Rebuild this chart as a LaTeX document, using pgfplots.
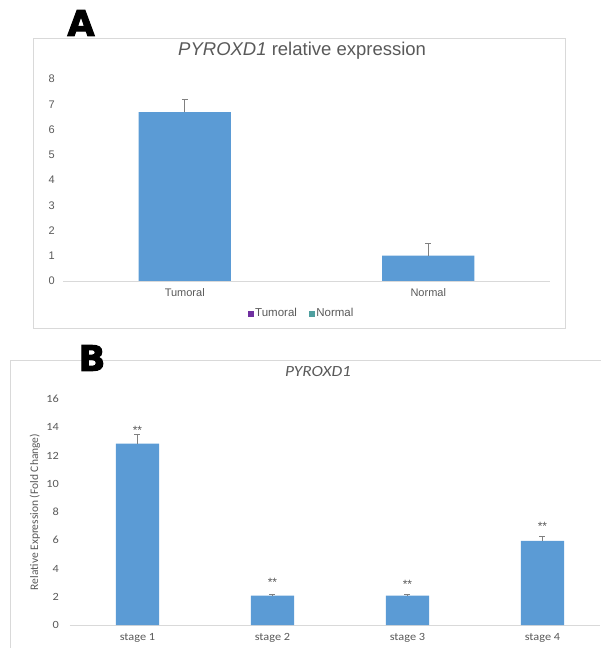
\documentclass[border=0pt]{standalone}
\usepackage{pgfplots}
\pgfplotsset{compat=1.18}
\usepackage{fontspec}
\setmainfont{Liberation Sans}
\newfontfamily\calfont[FakeStretch=1.12]{Carlito}
\newfontfamily\calfontplain{Carlito}
\newfontfamily\bigfont[FakeBold=3]{DejaVu Sans Bold}
\definecolor{barblue}{HTML}{5B9BD5}
\definecolor{txtgray}{HTML}{595959}
\definecolor{axgray}{HTML}{D9D9D9}
\definecolor{errgray}{HTML}{808080}
\definecolor{legpurple}{HTML}{7030A0}
\definecolor{legteal}{RGB}{80,160,160}
\begin{document}
\begin{tikzpicture}[x=1pt,y=1pt]
\useasboundingbox (0,0) rectangle (600,648);
% panel frames
\draw[axgray, line width=0.8pt] (33,610) rectangle (565,320);
\draw[axgray, line width=0.8pt] (10,-5) -- (10,288) -- (605,288);
% panel letters
\node[font=\bigfont\fontsize{35}{35}\selectfont, anchor=center] at (81,625) {A};
\node[font=\bigfont\fontsize{35}{35}\selectfont, anchor=center] at (92,290) {B};
% ---------- Panel A ----------
\begin{axis}[
  at={(63pt,367pt)}, anchor=south west,
  scale only axis, width=487pt, height=202pt,
  xmin=-0.5, xmax=1.5, ymin=0, ymax=8,
  axis y line*=left,
  y axis line style={draw=none},
  axis x line*=bottom,
  x axis line style={axgray, line width=0.8pt, -},
  ytick={0,1,...,8},
  xtick={0,1}, xticklabels={Tumoral,Normal},
  major tick length=0pt,
  ticklabel style={font=\fontsize{11}{13}\selectfont, text=txtgray},
  /pgf/number format/assume math mode=true,
  yticklabel style={anchor=east, inner sep=0pt, xshift=-8pt},
  xticklabel style={yshift=-4pt},
  title={\textit{PYROXD1} relative expression},
  title style={at={(axis description cs:0.491,1.109)}, anchor=center, font=\fontsize{18.5}{20}\selectfont, text=txtgray},
  legend style={at={(axis description cs:0.49,-0.16)}, anchor=center, draw=none, fill=none,
    font=\fontsize{11.5}{13}\selectfont, text=txtgray, legend columns=2,
    /tikz/every even column/.append style={column sep=10pt}},
  legend image code/.code={\fill[#1] (0pt,-2.5pt) rectangle (5pt,2.5pt);},
  legend cell align=left,
]
\addplot[forget plot, ybar, bar width=0.378, fill=barblue, draw=none, bar shift=0pt,
  error bars/.cd, y dir=plus, y explicit,
  error bar style={errgray, line width=0.8pt},
  error mark options={errgray, line width=0.8pt, mark size=3pt, rotate=90}]
  coordinates {(0,6.69) +- (0,0.51) (1,1.0) +- (0,0.48)};
\addlegendimage{legpurple}
\addlegendentry{Tumoral}
\addlegendimage{legteal}
\addlegendentry{Normal}
\end{axis}
% ---------- Panel B ----------
\begin{axis}[
  at={(70pt,23pt)}, anchor=south west,
  scale only axis, width=530pt, height=226pt,
  xmin=-0.5, xmax=3.426, ymin=0, ymax=16,
  clip=false,
  axis y line*=left,
  y axis line style={draw=none},
  axis x line*=bottom,
  x axis line style={axgray, line width=0.8pt, -},
  ytick={0,2,...,16},
  xtick={0,1,2,3}, xticklabels={stage 1,stage 2,stage 3,stage 4},
  major tick length=0pt,
  ticklabel style={font=\calfont\fontsize{11}{13}\selectfont, text=txtgray},
  /pgf/number format/assume math mode=true,
  yticklabel style={anchor=east, inner sep=0pt, xshift=-11pt},
  xticklabel style={yshift=-5pt},
  ylabel={Relative Expression (Fold Change)},
  ylabel style={font=\calfontplain\fontsize{11.5}{13}\selectfont, text=txtgray, at={(axis description cs:-0.066,0.5)}, anchor=center},
  title={\textit{PYROXD1}},
  title style={at={(axis description cs:0.468,1.093)}, anchor=center, font=\calfont\fontsize{15.5}{17}\selectfont, text=txtgray},
]
\addplot[ybar, bar width=0.32, fill=barblue, draw=none, bar shift=0pt,
  error bars/.cd, y dir=plus, y explicit,
  error bar style={errgray, line width=0.8pt},
  error mark options={errgray, line width=0.8pt, mark size=3pt, rotate=90}]
  coordinates {(0,12.84) +- (0,0.63) (1,2.08) +- (0,0.12) (2,2.08) +- (0,0.1) (3,5.96) +- (0,0.3)};
\node[font=\fontsize{12}{12}\selectfont, text=txtgray] at (axis cs:0,13.75) {**};
\node[font=\fontsize{12}{12}\selectfont, text=txtgray] at (axis cs:1,3.05) {**};
\node[font=\fontsize{12}{12}\selectfont, text=txtgray] at (axis cs:2,2.9) {**};
\node[font=\fontsize{12}{12}\selectfont, text=txtgray] at (axis cs:3,7.0) {**};
\end{axis}
\end{tikzpicture}
\end{document}
